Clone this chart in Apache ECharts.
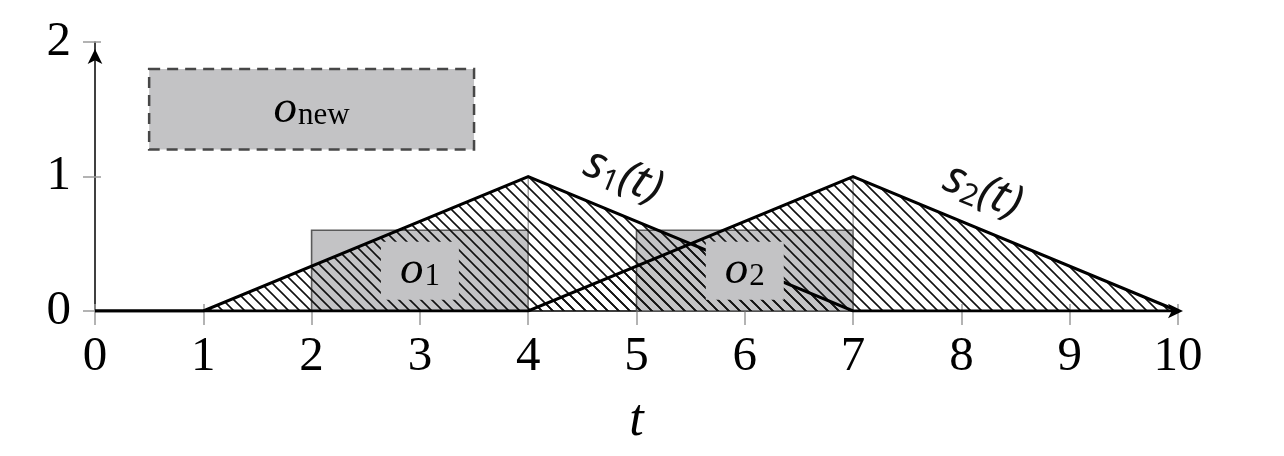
<!DOCTYPE html>
<html>
<head>
<meta charset="utf-8">
<script src="https://cdn.jsdelivr.net/npm/echarts@6/dist/echarts.min.js"></script>
<style>html,body{margin:0;padding:0;background:#fff;}#c{width:1284px;height:456px;}</style>
</head>
<body>
<div id="c"></div>
<script>
// ---- data ----
const xTicks = [0,1,2,3,4,5,6,7,8,9,10];
const yTicks = [0,1,2];
const s1Points = [[0,0],[1,0],[4,1],[7,0],[10,0]];
const s2Points = [[0,0],[4,0],[7,1],[10,0]];
const peakX = [4, 7];
const peakY = [1, 1];
const boxNames = ['o_new','o_1','o_2'];
const boxX0 = [0.5, 2, 5];
const boxX1 = [3.5, 4, 7];
const boxY0 = [1.2, 0, 0];
const boxY1 = [1.8, 0.6, 0.6];
const curveNames = ['s_1(t)','s_2(t)'];
const curveLabelAt = [[4.88, 1.0], [8.2, 0.89]];

// ---- styles ----
const SERIF = 'Liberation Serif';
const SANS = 'Noto Sans';
const BOX_FILL = '#c3c3c5';

function hatchPattern(){
  const s = 11;
  const c = document.createElement('canvas');
  c.width = s; c.height = s;
  const g = c.getContext('2d');
  g.strokeStyle = '#111';
  g.lineWidth = 1.6;
  g.beginPath();
  g.moveTo(-s,0); g.lineTo(s,2*s);
  g.moveTo(0,0); g.lineTo(s,s);
  g.moveTo(0,-s); g.lineTo(2*s,s);
  g.stroke();
  return {image: c, repeat: 'repeat'};
}
const hatch = hatchPattern();

const boxData = boxNames.map((n,i)=>[boxX0[i], boxY0[i], boxX1[i], boxY1[i], i]);
const labelData = boxNames.map((n,i)=>{
  const d = {name:n, value:[(boxX0[i]+boxX1[i])/2, (boxY0[i]+boxY1[i])/2]};
  if (i > 0) d.label = {backgroundColor:BOX_FILL, padding:[7,19,7,19]};
  return d;
});
const curveLabelData = curveNames.map((n,i)=>({name:n, value:curveLabelAt[i]}));

const richO = {
  o: {fontFamily: SERIF, fontStyle:'italic', fontSize: 47, color:'#000', lineHeight: 44, verticalAlign:'middle'},
  sub: {fontFamily: SERIF, fontSize: 31, color:'#000', lineHeight: 44, verticalAlign:'bottom', padding:[0,0,0,1]}
};
const richS = {
  s: {fontFamily: SANS, fontStyle:'italic', fontSize: 46, color:'#111', lineHeight: 50},
  sub: {fontFamily: SANS, fontSize: 30, color:'#111', lineHeight: 50, verticalAlign:'bottom'},
  p: {fontFamily: SANS, fontStyle:'italic', fontSize: 46, color:'#111', lineHeight: 50}
};

function xAxisBase(){
  return {type:'value', min:0, max:10, interval:1, gridIndex:0, splitLine:{show:false}};
}
function yAxisBase(){
  return {type:'value', min:0, max:2, interval:1, gridIndex:0, splitLine:{show:false}};
}

const option = {
  animation: false,
  backgroundColor: '#fff',
  grid: {left: 95, right: 106, top: 42, bottom: 145, containLabel: false},
  xAxis: [
    Object.assign(xAxisBase(), {
      position:'bottom',
      axisLine:{show:true, onZero:false, lineStyle:{color:'#000', width:1.5}, symbol:['none','arrow'], symbolSize:[11,15], symbolOffset:[0,5]},
      axisTick:{show:true, length:14, lineStyle:{color:'#9a9a9a', width:1.5}},
      axisLabel:{show:true, fontFamily:SERIF, fontSize:49, color:'#000', margin:22,
        formatter: v => xTicks.includes(v) ? String(v) : ''},
      name:'t', nameLocation:'middle', nameGap:84,
      nameTextStyle:{fontFamily:SERIF, fontStyle:'italic', fontSize:52, color:'#000'}
    }),
    Object.assign(xAxisBase(), {
      position:'bottom',
      axisLine:{show:false, onZero:false},
      axisTick:{show:true, inside:true, length:7, lineStyle:{color:'#9a9a9a', width:1.5}},
      axisLabel:{show:false}
    })
  ],
  yAxis: [
    Object.assign(yAxisBase(), {
      position:'left',
      axisLine:{show:true, onZero:false, lineStyle:{color:'#000', width:1.5}, symbol:['none','arrow'], symbolSize:[11,15], symbolOffset:[0,-7]},
      axisTick:{show:true, length:12, lineStyle:{color:'#9a9a9a', width:1.5}},
      axisLabel:{show:true, fontFamily:SERIF, fontSize:49, color:'#000', margin:24,
        formatter: v => yTicks.includes(v) ? String(v) : ''}
    }),
    Object.assign(yAxisBase(), {
      position:'left',
      axisLine:{show:false, onZero:false},
      axisTick:{show:true, inside:true, length:6, lineStyle:{color:'#9a9a9a', width:1.5}},
      axisLabel:{show:false}
    })
  ],
  series: [
    {
      type:'custom', name:'boxes', z:1, xAxisIndex:0, yAxisIndex:0,
      data: boxData,
      encode:{x:[0,2], y:[1,3]},
      renderItem: function(params, api){
        const p0 = api.coord([api.value(0), api.value(3)]);
        const p1 = api.coord([api.value(2), api.value(1)]);
        const dashed = api.value(4) === 0;
        return {
          type:'rect',
          shape:{x:p0[0], y:p0[1], width:p1[0]-p0[0], height:p1[1]-p0[1]},
          style:{fill:BOX_FILL, stroke: dashed ? '#474747' : '#5a5a5a', lineWidth: dashed ? 2.5 : 1.6,
                 lineDash: dashed ? [11,7] : null}
        };
      }
    },
    {
      type:'line', name:'peak1', z:2, data:[[peakX[0],0],[peakX[0],peakY[0]]], symbol:'none',
      lineStyle:{color:'#8a8a8a', width:1.2}, silent:true
    },
    {
      type:'line', name:'peak2', z:2, data:[[peakX[1],0],[peakX[1],peakY[1]]], symbol:'none',
      lineStyle:{color:'#8a8a8a', width:1.2}, silent:true
    },
    {
      type:'line', name:curveNames[0], z:3, data:s1Points, symbol:'none',
      lineStyle:{color:'#000', width:3, join:'miter'}, areaStyle:{color:hatch, opacity:1}
    },
    {
      type:'line', name:curveNames[1], z:3, data:s2Points, symbol:'none',
      lineStyle:{color:'#000', width:3, join:'miter'}, areaStyle:{color:hatch, opacity:1}
    },
    {
      type:'scatter', name:'boxLabels', z:5, symbolSize:0, data:labelData,
      itemStyle:{opacity:1}, emphasis:{disabled:true}, silent:true,
      label:{show:true, position:'inside',
        formatter: p => '{o|o}{sub|' + p.name.split('_')[1] + '}',
        rich: richO
      }
    },
    {
      type:'scatter', name:'curveLabels', z:5, symbolSize:0, data:curveLabelData,
      itemStyle:{opacity:1}, emphasis:{disabled:true}, silent:true,
      label:{show:true, position:'inside', rotate:-22,
        formatter: p => '{s|s}{sub|' + p.name.split('_')[1].charAt(0) + '}{p|(t)}',
        rich: richS
      }
    }
  ]
};

const chart = echarts.init(document.getElementById('c'), null, {renderer:'canvas'});
chart.setOption(option);
</script>
</body>
</html>
